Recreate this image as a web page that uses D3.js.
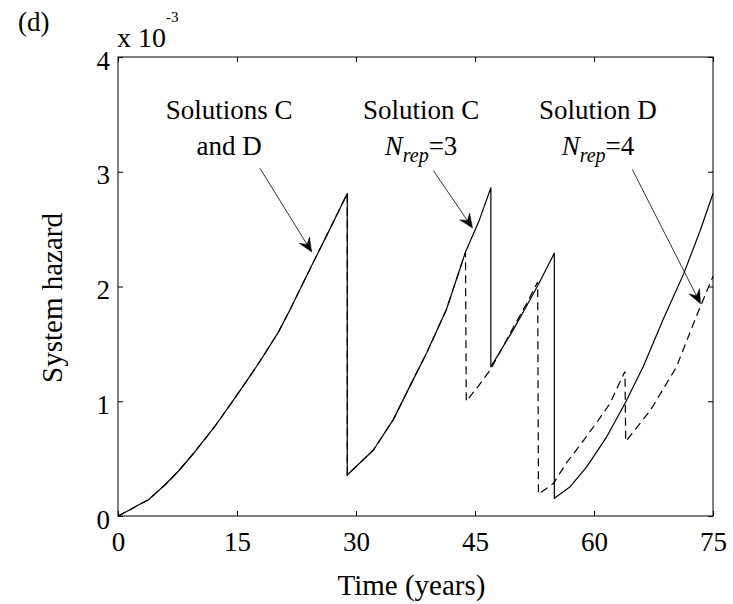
<!DOCTYPE html>
<html>
<head>
<meta charset="utf-8">
<script src="https://cdn.jsdelivr.net/npm/d3@7"></script>
<style>
  html, body { margin: 0; padding: 0; background: #fff; }
  svg { display: block; }
  text { font-family: "Liberation Serif", "Times New Roman", serif; fill: #000; }
</style>
</head>
<body>
<svg id="chart" width="733" height="604"></svg>
<script>
// ---- data (time in years, hazard in units of 1e-3) ----
const xTicks = [0, 15, 30, 45, 60, 75];
const xTickLabels = ["0", "15", "30", "45", "60", "75"];
const yTicks = [0, 1, 2, 3, 4];
const yTickLabels = ["0", "1", "2", "3", "4"];

const solutionC = [
  [0, 0], [1.4, 0.05], [2.8, 0.105], [3.8, 0.14], [5.1, 0.22], [5.9, 0.27], [7.6, 0.39],
  [9.7, 0.56], [12.2, 0.78], [14.75, 1.03], [16.85, 1.24], [18.1, 1.37], [20.2, 1.60],
  [21.7, 1.80], [24.4, 2.18], [26.7, 2.50], [28.9, 2.81],
  [28.9, 0.357], [32.2, 0.575], [34.7, 0.84], [37.0, 1.16], [38.9, 1.42], [41.4, 1.80],
  [43.8, 2.30], [45.5, 2.57], [47.0, 2.86],
  [47.0, 1.30], [49.8, 1.62], [51.5, 1.83], [53.0, 2.02], [55.0, 2.29],
  [55.0, 0.154], [57.0, 0.255], [59.1, 0.43], [61.6, 0.69], [63.9, 0.98], [66.2, 1.30],
  [68.7, 1.71], [71.3, 2.11], [73.4, 2.49], [75.0, 2.81]
];

const solutionD = [
  [0, 0], [1.4, 0.05], [2.8, 0.105], [3.8, 0.14], [5.1, 0.22], [5.9, 0.27], [7.6, 0.39],
  [9.7, 0.56], [12.2, 0.78], [14.75, 1.03], [16.85, 1.24], [18.1, 1.37], [20.2, 1.60],
  [21.7, 1.80], [24.4, 2.18], [26.7, 2.50], [28.9, 2.81],
  [28.9, 0.357], [32.2, 0.575], [34.7, 0.84], [37.0, 1.16], [38.9, 1.42], [41.4, 1.80],
  [43.8, 2.30],
  [43.9, 1.0], [45.4, 1.13], [46.9, 1.27], [49.8, 1.64], [51.5, 1.85], [52.9, 2.04],
  [53.0, 0.19], [54.9, 0.285], [56.5, 0.46], [58.7, 0.66], [60.5, 0.83], [62.0, 0.98], [63.9, 1.26],
  [64.0, 0.65], [67.1, 0.92], [70.4, 1.30], [72.9, 1.74], [75.0, 2.09]
];

// annotations: text lines (data coords of centre/baseline) and arrows (from -> to)
const annotationLabels = [
  { lines: [["Solutions C"], ["and D"]], x: 14.0, y: [3.46, 3.15] },
  { lines: [["Solution C"], ["N", "rep", "=3"]], x: 38.2, y: [3.46, 3.15] },
  { lines: [["Solution D"], ["N", "rep", "=4"]], x: 60.5, y: [3.46, 3.15] }
];
const annotationArrows = [
  { from: [17.9, 3.03], to: [24.42, 2.30] },
  { from: [39.75, 3.01], to: [44.69, 2.51] },
  { from: [64.83, 3.02], to: [73.43, 1.85] }
];

// ---- layout ----
const svg = d3.select("#chart");
const x = d3.scaleLinear().domain([0, 75]).range([118, 713]);
const y = d3.scaleLinear().domain([0, 4]).range([516, 57]);
const fontTick = 27;

// axes
const gB = svg.append("g").attr("transform", `translate(0,${y(0)})`)
  .call(d3.axisBottom(x).tickValues(xTicks).tickFormat((d, i) => xTickLabels[i])
    .tickSizeInner(-5).tickSizeOuter(0).tickPadding(16));
const gT = svg.append("g").attr("transform", `translate(0,${y(4)})`)
  .call(d3.axisTop(x).tickValues(xTicks).tickFormat("").tickSizeInner(-5).tickSizeOuter(0));
const gL = svg.append("g").attr("transform", `translate(${x(0)},0)`)
  .call(d3.axisLeft(y).tickValues(yTicks).tickFormat((d, i) => yTickLabels[i])
    .tickSizeInner(-5).tickSizeOuter(0).tickPadding(8));
const gR = svg.append("g").attr("transform", `translate(${x(75)},0)`)
  .call(d3.axisRight(y).tickValues(yTicks).tickFormat("").tickSizeInner(-5).tickSizeOuter(0));

[gB, gT, gL, gR].forEach(g => {
  g.select(".domain").remove();
  g.selectAll(".tick line").attr("stroke", "#000").attr("stroke-width", 1);
  g.selectAll("text").attr("font-size", fontTick)
    .attr("font-family", '"Liberation Serif", "Times New Roman", serif').attr("fill", "#000");
});
gL.selectAll("text").attr("dy", "0.45em");
[gT, gR].forEach(g => g.selectAll("text").remove());

// box
svg.append("rect")
  .attr("x", x(0)).attr("y", y(4))
  .attr("width", x(75) - x(0)).attr("height", y(0) - y(4))
  .attr("fill", "none").attr("stroke", "#000").attr("stroke-width", 1);

// lines
const line = d3.line().x(d => x(d[0])).y(d => y(d[1]));
svg.append("path").datum(solutionC).attr("d", line)
  .attr("fill", "none").attr("stroke", "#000").attr("stroke-width", 1.2)
  .attr("stroke-linejoin", "round");
svg.append("path").datum(solutionD).attr("d", line)
  .attr("fill", "none").attr("stroke", "#000").attr("stroke-width", 1.2)
  .attr("stroke-dasharray", "8,5");

// axis titles
svg.append("text").attr("x", 411.5).attr("y", 595).attr("text-anchor", "middle")
  .attr("font-size", 29).text("Time (years)");
svg.append("text").attr("transform", "translate(61.5,298) rotate(-90)")
  .attr("text-anchor", "middle").attr("font-size", 29).text("System hazard");

// panel label & exponent
svg.append("text").attr("x", 18).attr("y", 31).attr("font-size", 27).text("(d)");
const expo = svg.append("text").attr("x", 117).attr("y", 47).attr("font-size", 28);
expo.append("tspan").text("x 10");
expo.append("tspan").attr("font-size", 15).attr("dy", -25).text("-3");

// annotation texts
annotationLabels.forEach(a => {
  a.lines.forEach((parts, i) => {
    const t = svg.append("text").attr("x", x(a.x)).attr("y", y(a.y[i]))
      .attr("text-anchor", "middle").attr("font-size", 27);
    if (parts.length === 1) {
      t.text(parts[0]);
    } else {
      t.append("tspan").attr("font-style", "italic").text(parts[0]);
      t.append("tspan").attr("font-style", "italic").attr("font-size", 20).attr("dy", 7).text(parts[1]);
      t.append("tspan").attr("dy", -7).text(parts[2]);
    }
  });
});

// annotation arrows
annotationArrows.forEach(a => {
  const x1 = x(a.from[0]), y1 = y(a.from[1]);
  const x2 = x(a.to[0]), y2 = y(a.to[1]);
  const ang = Math.atan2(y2 - y1, x2 - x1);
  const L = 14, W = 6, notch = 9;
  const ux = Math.cos(ang), uy = Math.sin(ang);
  const px = -uy, py = ux;
  const bx = x2 - ux * L, by = y2 - uy * L;
  const nx = x2 - ux * notch, ny = y2 - uy * notch;
  svg.append("line").attr("x1", x1).attr("y1", y1).attr("x2", nx).attr("y2", ny)
    .attr("stroke", "#000").attr("stroke-width", 0.8);
  svg.append("path")
    .attr("d", `M${x2},${y2}L${bx + px * W},${by + py * W}L${nx},${ny}L${bx - px * W},${by - py * W}Z`)
    .attr("fill", "#000").attr("stroke", "#000").attr("stroke-width", 0.5);
});
</script>
</body>
</html>
